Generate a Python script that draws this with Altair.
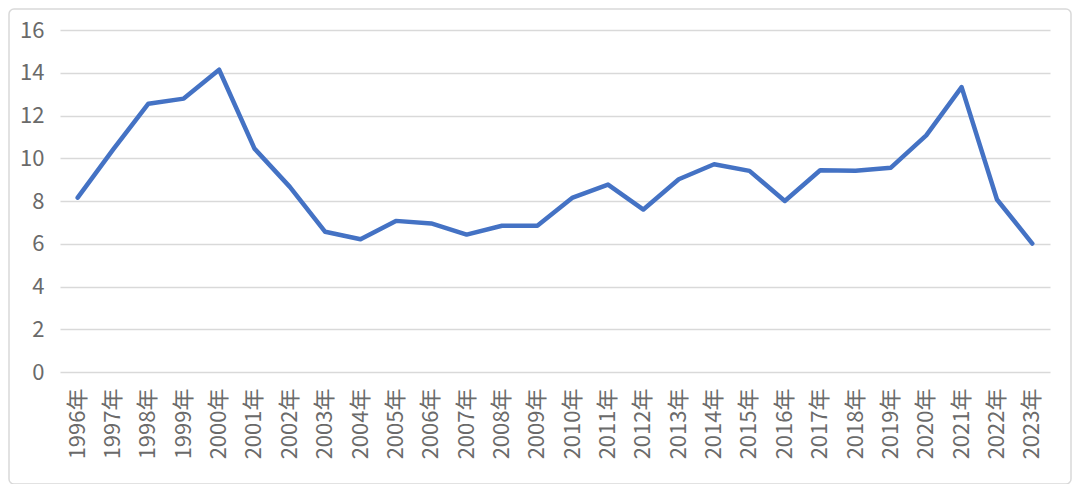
import altair as alt
import pandas as pd

years = [f"{y}年" for y in range(1996, 2024)]
values = [8.16, 10.4, 12.55, 12.79, 14.14, 10.45, 8.66, 6.56, 6.21, 7.07,
          6.95, 6.43, 6.84, 6.84, 8.16, 8.77, 7.6, 9.02, 9.72, 9.41,
          8.0, 9.44, 9.41, 9.56, 11.07, 13.33, 8.07, 6.01]

df = pd.DataFrame({"year": years, "value": values})

FONT = "Noto Sans CJK SC"
LABEL_COLOR = "#6a6a6a"

line = alt.Chart(df).mark_line(
    color="#4472C4", strokeWidth=4.5, strokeJoin="round", strokeCap="round"
).encode(
    x=alt.X("year:N", sort=years, title=None,
            scale=alt.Scale(type="band", paddingInner=0, paddingOuter=0),
            axis=alt.Axis(labelAngle=-90, labelAlign="right", labelBaseline="middle",
                          labelPadding=16, ticks=False, domain=False, grid=False,
                          labelFont=FONT, labelFontSize=22, labelColor=LABEL_COLOR)),
    y=alt.Y("value:Q", title=None,
            scale=alt.Scale(domain=[0, 16]),
            axis=alt.Axis(values=[0, 2, 4, 6, 8, 10, 12, 14, 16], ticks=False, domain=False,
                          labelPadding=16, labelFont=FONT, labelFontSize=22,
                          labelColor=LABEL_COLOR, gridColor="#d9d9d9", gridWidth=1.4)),
)

frame = alt.Chart(pd.DataFrame({"k": [0]})).mark_rect(
    filled=False, stroke="#d9d9d9", strokeWidth=1.5, cornerRadius=5
).encode(
    x=alt.value(-51), x2=alt.value(1011), y=alt.value(-21), y2=alt.value(454)
)

chart = alt.layer(frame, line).properties(
    width=990, height=342,
    autosize=alt.AutoSizeParams(type="none"),
    padding={"left": 52, "top": 22, "right": 22, "bottom": 112},
    background="white",
).configure_view(stroke=None)

chart.save("out.html", embed_options={"renderer": "svg", "actions": False})
